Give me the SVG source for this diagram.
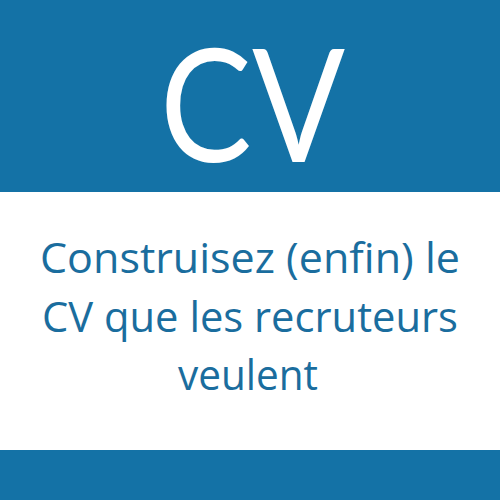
<svg xmlns="http://www.w3.org/2000/svg" width="500" height="500" viewBox="0 0 500 500">
<style>
.band{fill:#1472a6}
.t{font-family:"Open Sans","Liberation Sans",sans-serif;fill:#1a6d9e;font-size:42px;text-anchor:middle}
.big{font-family:Lato,"Open Sans","Liberation Sans",sans-serif;fill:#ffffff;font-size:158px;text-anchor:middle}
</style>
<rect x="0" y="0" width="500" height="500" fill="#ffffff"/>
<g id="top"><rect class="band" x="0" y="0" width="500" height="192"/>
<text class="big" x="252.5" y="162" textLength="185" lengthAdjust="spacingAndGlyphs">CV</text></g>
<g id="title">
<text class="t" x="250" y="273" textLength="420" lengthAdjust="spacingAndGlyphs">Construisez (enfin) le</text>
<text class="t" x="250" y="332" textLength="416" lengthAdjust="spacingAndGlyphs">CV que les recruteurs</text>
<text class="t" x="248" y="390" textLength="140" lengthAdjust="spacingAndGlyphs">veulent</text>
</g>
<g id="bottom"><rect class="band" x="0" y="450" width="500" height="50"/></g>
</svg>
